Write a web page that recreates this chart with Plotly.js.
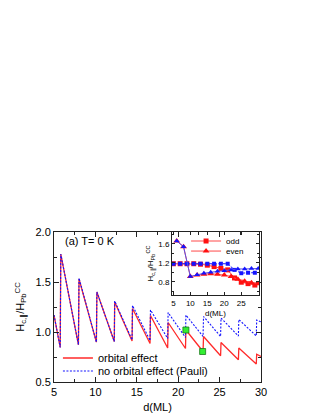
<!DOCTYPE html>
<html>
<head>
<meta charset="utf-8">
<script src="https://cdn.plot.ly/plotly-3.0.1.min.js"></script>
<style>html,body{margin:0;padding:0;background:#fff;}#chart{width:323px;height:418px;}</style>
</head>
<body>
<div id="chart"></div>
<script>
// Main panel: sawtooth curves (thickness d in ML)
var dOrbital = [5.0, 5.75, 5.82, 7.95, 8.02, 10.12, 10.18, 12.28, 12.33, 14.43, 14.48, 16.6, 16.65, 18.73, 18.78, 20.88, 20.93, 23.0, 23.06, 25.12, 25.17, 27.27, 27.32, 29.43, 29.48, 29.75, 30.0];
var hOrbital = [1.17, 0.845, 1.78, 0.872, 1.53, 0.898, 1.40, 0.905, 1.30, 0.91, 1.235, 0.885, 1.165, 0.84, 1.095, 0.835, 1.02, 0.805, 0.955, 0.762, 0.895, 0.722, 0.84, 0.68, 0.778, 0.765, 0.755];
var dPauli = [5.0, 5.75, 5.82, 7.95, 8.02, 10.12, 10.18, 12.28, 12.33, 14.43, 14.48, 16.6, 16.65, 18.73, 18.78, 20.88, 20.93, 23.0, 23.06, 25.12, 25.17, 27.27, 27.32, 29.43, 29.48, 30.0];
var hPauli = [1.17, 0.845, 1.78, 0.872, 1.54, 0.898, 1.40, 0.905, 1.31, 0.92, 1.265, 0.915, 1.22, 0.935, 1.195, 0.945, 1.17, 0.955, 1.155, 0.955, 1.14, 0.96, 1.125, 0.96, 1.12, 1.10];
var dMarked = [20.93, 22.95];
var hMarked = [1.02, 0.805];

// Inset: odd / even layers
var dOdd = [5, 7, 9, 11, 13, 15, 17, 19, 21, 23, 25, 27, 29];
var oddOrbital = [1.18, 1.18, 1.18, 1.18, 1.17, 1.15, 1.12, 1.08, 1.05, 0.88, 0.79, 0.76, 0.73];
var oddPauli = [1.18, 1.18, 1.18, 1.18, 1.18, 1.18, 1.18, 1.18, 1.18, 1.05, 0.98, 0.99, 0.99];
var dEven = [6, 8, 10, 12, 14, 16, 18, 20, 22, 24, 26, 28, 30];
var evenOrbital = [1.66, 1.54, 0.91, 0.94, 0.96, 0.97, 0.96, 0.94, 0.91, 0.85, 0.81, 0.78, 0.76];
var evenPauli = [1.66, 1.54, 0.91, 0.95, 0.98, 1.00, 1.02, 1.03, 1.05, 1.07, 1.07, 1.08, 1.08];

var mainTicks = [5, 10, 15, 20, 25, 30];
var insetTicks = [5, 10, 15, 20, 25];

var FONT = 'Liberation Sans, Arial, sans-serif';
var RED = '#ff2a2a', BLUE = '#1414ff';

var traces = [
  {x: dOrbital, y: hOrbital, type: 'scatter', mode: 'lines', name: 'orbital effect',
   line: {color: RED, width: 1.3}, legend: 'legend'},
  {x: dPauli, y: hPauli, type: 'scatter', mode: 'lines', name: 'no orbital effect (Pauli)',
   line: {color: BLUE, width: 1.1, dash: '2px,1.5px'}, legend: 'legend2'},
  {x: dMarked, y: hMarked, type: 'scatter', mode: 'markers', showlegend: false,
   marker: {symbol: 'square', size: 6, color: '#33ee33', line: {color: '#1a7a1a', width: 0.8}}},
  // inset
  {x: dOdd, y: oddOrbital, xaxis: 'x2', yaxis: 'y2', type: 'scatter', mode: 'lines+markers', name: 'odd',
   line: {color: '#ff4a4a', width: 1}, marker: {symbol: 'square', size: 5, color: '#ff1010'}, legend: 'legend3'},
  {x: dEven, y: evenOrbital, xaxis: 'x2', yaxis: 'y2', type: 'scatter', mode: 'lines+markers', name: 'even',
   line: {color: '#ff4a4a', width: 1}, marker: {symbol: 'triangle-up', size: 6, color: '#ff1010'}, legend: 'legend4'},
  {x: dOdd, y: oddPauli, xaxis: 'x2', yaxis: 'y2', type: 'scatter', mode: 'lines+markers', showlegend: false,
   line: {color: BLUE, width: 1, dash: '3px,1.5px'}, marker: {symbol: 'square', size: 4, color: BLUE}},
  {x: dEven, y: evenPauli, xaxis: 'x2', yaxis: 'y2', type: 'scatter', mode: 'lines+markers', showlegend: false,
   line: {color: '#5a50e6', width: 1}, marker: {symbol: 'triangle-up', size: 5, color: BLUE}}
];

var axisCommon = {
  showline: true, linecolor: '#222', linewidth: 1, mirror: 'ticks',
  ticks: 'inside', tickcolor: '#222', showgrid: false, zeroline: false
};

var layout = {
  width: 323, height: 418,
  margin: {l: 54, r: 62, t: 232, b: 36, pad: 0},
  paper_bgcolor: '#fff', plot_bgcolor: 'rgba(0,0,0,0)',
  font: {family: FONT, color: '#000', size: 11},
  showlegend: true,
  xaxis: Object.assign({}, axisCommon, {
    domain: [0, 1], range: [5, 30], tickvals: mainTicks, ticklen: 5,
    tickfont: {size: 11, family: FONT},
    minor: {dtick: 2.5, tick0: 0, ticks: 'inside', ticklen: 3, tickcolor: '#222'},
    title: {text: 'd(ML)', font: {size: 11, family: FONT}, standoff: 6}
  }),
  yaxis: Object.assign({}, axisCommon, {
    domain: [0, 1], range: [0.5, 2.0], dtick: 0.5, tick0: 0, ticklen: 5, tickformat: '.1f',
    tickfont: {size: 11, family: FONT},
    minor: {dtick: 0.25, tick0: 0, ticks: 'inside', ticklen: 3, tickcolor: '#222'},
    title: {text: 'H<sub>c,∥</sub>/H<sub>Pb</sub><sup>CC</sup>', font: {size: 11, family: FONT}, standoff: 8}
  }),
  xaxis2: Object.assign({}, axisCommon, {
    domain: [0.570, 0.990], anchor: 'y2', range: [4.6, 30.2], tickvals: insetTicks, ticklen: 3,
    tickfont: {size: 8, family: FONT},
    title: {text: 'd(ML)', font: {size: 8, family: FONT}, standoff: 3}
  }),
  yaxis2: Object.assign({}, axisCommon, {
    domain: [0.58, 1.0], anchor: 'x2', range: [0.52, 1.85], dtick: 0.4, tick0: 0, ticklen: 3, tickformat: '.1f',
    tickfont: {size: 8, family: FONT},
    minor: {dtick: 0.2, tick0: 0, ticks: 'inside', ticklen: 2, tickcolor: '#222'},
    title: {text: 'H<sub>c,∥</sub>/H<sub>Pb</sub><sup>CC</sup>', font: {size: 8, family: FONT}, standoff: 3}
  }),
  legend: {x: 0.019, y: 0.16, xanchor: 'left', yanchor: 'middle', bgcolor: 'rgba(0,0,0,0)',
    font: {size: 11, family: FONT}, borderwidth: 0},
  legend2: {x: 0.019, y: 0.073, xanchor: 'left', yanchor: 'middle', bgcolor: 'rgba(0,0,0,0)',
    font: {size: 11, family: FONT}, borderwidth: 0},
  legend3: {x: 0.638, y: 0.94, xanchor: 'left', yanchor: 'middle', bgcolor: 'rgba(0,0,0,0)',
    font: {size: 8, family: FONT}, borderwidth: 0},
  legend4: {x: 0.638, y: 0.873, xanchor: 'left', yanchor: 'middle', bgcolor: 'rgba(0,0,0,0)',
    font: {size: 8, family: FONT}, borderwidth: 0},
  annotations: [
    {text: '(a) T= 0 K', xref: 'paper', yref: 'paper', x: 0.042, y: 0.942, xanchor: 'left', yanchor: 'middle',
     showarrow: false, font: {size: 11, family: FONT}}
  ]
};

Plotly.newPlot('chart', traces, layout, {displayModeBar: false, staticPlot: true});
</script>
</body>
</html>
